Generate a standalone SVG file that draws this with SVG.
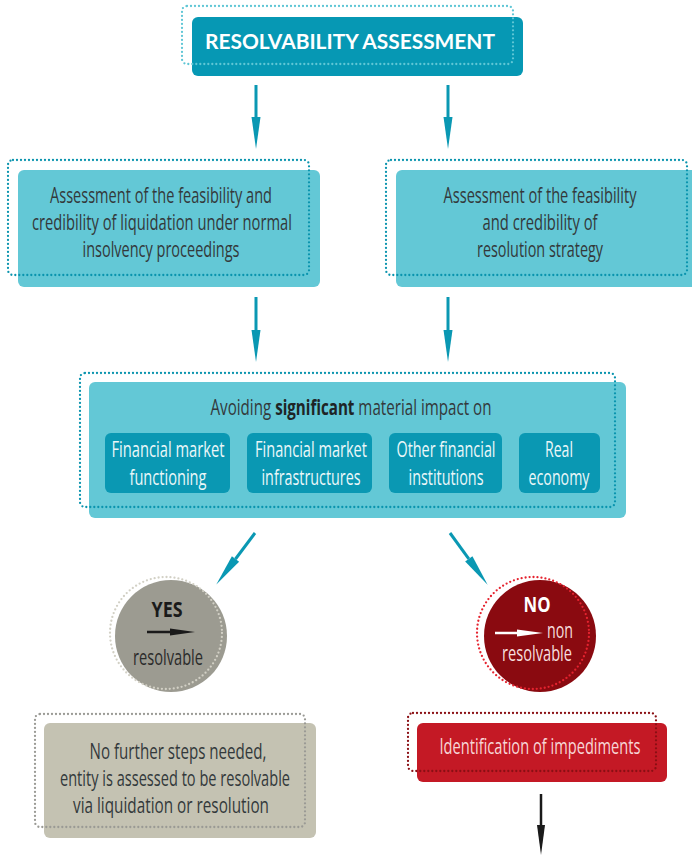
<svg xmlns="http://www.w3.org/2000/svg" width="692" height="855" viewBox="0 0 692 855">
<style>
.t{font-family:"Open Sans","Liberation Sans",sans-serif;font-size:22px;fill:#33393b;text-anchor:middle}
.w{fill:#eaf7f9}
.b{font-weight:bold}
.dot{fill:none;stroke-width:2.3;stroke-linecap:round;stroke-dasharray:0 4}
.blue{stroke:#0a94ae}
.sub{fill:#0a98b3}
.lb{fill:#63c8d6}
.arr{stroke:#0a98b3;stroke-width:3;fill:none;marker-end:url(#ah)}
</style>
<defs>
<marker id="ah" markerUnits="userSpaceOnUse" markerWidth="34" markerHeight="10" refX="0" refY="5" orient="auto" overflow="visible">
<path d="M0,0.5 L32,5 L0,9.5 Z" fill="#0a98b3"/>
</marker>
<marker id="ahk" markerUnits="userSpaceOnUse" markerWidth="32" markerHeight="10" refX="0" refY="5" orient="auto" overflow="visible">
<path d="M0,1 L30,5 L0,9 Z" fill="#1a1a1a"/>
</marker>
</defs>
<rect width="692" height="855" fill="#ffffff"/>

<g id="title">
<rect x="192" y="17" width="331" height="59" rx="6" fill="#0698b4"/>
<rect x="182" y="6" width="331" height="58" rx="5" class="dot" stroke="#5fc6d5"/>
<text x="350" y="49" textLength="290" lengthAdjust="spacingAndGlyphs" style="font-family:Lato,'Liberation Sans',sans-serif;font-size:21px;font-weight:bold;fill:#ffffff" text-anchor="middle">RESOLVABILITY ASSESSMENT</text>
</g>

<g id="liquidation">
<rect x="18" y="170" width="302" height="117" rx="6" class="lb"/>
<rect x="8" y="160" width="301" height="115" rx="5" class="dot blue"/>
<text class="t" x="161" y="203" textLength="222" lengthAdjust="spacingAndGlyphs">Assessment of the feasibility and</text>
<text class="t" x="162" y="230" textLength="260" lengthAdjust="spacingAndGlyphs">credibility of liquidation under normal</text>
<text class="t" x="161" y="257" textLength="157" lengthAdjust="spacingAndGlyphs">insolvency proceedings</text>
</g>

<g id="resolution">
<rect x="396" y="170" width="302" height="117" rx="6" class="lb"/>
<rect x="386" y="160" width="301" height="115" rx="5" class="dot blue"/>
<text class="t" x="540" y="203" textLength="193" lengthAdjust="spacingAndGlyphs">Assessment of the feasibility</text>
<text class="t" x="540" y="230" textLength="115" lengthAdjust="spacingAndGlyphs">and credibility of</text>
<text class="t" x="540" y="257" textLength="126" lengthAdjust="spacingAndGlyphs">resolution strategy</text>
</g>

<g id="impact">
<rect x="89" y="382" width="537" height="136" rx="6" class="lb"/>
<rect x="80" y="373" width="535" height="134" rx="5" class="dot blue"/>
<text class="t" x="351" y="415" textLength="281" lengthAdjust="spacingAndGlyphs">Avoiding <tspan class="b" style="fill:#1e2526">significant</tspan> material impact on</text>
</g>

<g id="fmf">
<rect x="105" y="433" width="125" height="60" rx="6" class="sub"/>
<text class="t w" x="168" y="457" textLength="113" lengthAdjust="spacingAndGlyphs">Financial market</text>
<text class="t w" x="168" y="485" textLength="77" lengthAdjust="spacingAndGlyphs">functioning</text>
</g>
<g id="fmi">
<rect x="247" y="433" width="125" height="60" rx="6" class="sub"/>
<text class="t w" x="311" y="457" textLength="112" lengthAdjust="spacingAndGlyphs">Financial market</text>
<text class="t w" x="311" y="485" textLength="99" lengthAdjust="spacingAndGlyphs">infrastructures</text>
</g>
<g id="ofi">
<rect x="389" y="433" width="113" height="60" rx="6" class="sub"/>
<text class="t w" x="446" y="457" textLength="99" lengthAdjust="spacingAndGlyphs">Other financial</text>
<text class="t w" x="446" y="485" textLength="75" lengthAdjust="spacingAndGlyphs">institutions</text>
</g>
<g id="real">
<rect x="519" y="433" width="81" height="60" rx="6" class="sub"/>
<text class="t w" x="559" y="457" textLength="28" lengthAdjust="spacingAndGlyphs">Real</text>
<text class="t w" x="559" y="485" textLength="61" lengthAdjust="spacingAndGlyphs">economy</text>
</g>

<g id="yes">
<circle cx="171" cy="636" r="56" fill="#9c9b91"/>
<circle cx="166" cy="633" r="56" class="dot" stroke="#d2d0c5"/>
<text class="t b" x="167" y="617" style="fill:#1a1a1a" textLength="31" lengthAdjust="spacingAndGlyphs">YES</text>
<line x1="147" y1="632" x2="171" y2="632" stroke="#1a1a1a" stroke-width="2.5"/>
<path d="M170,628.5 L195,632 L170,635.5 Z" fill="#1a1a1a"/>
<text class="t" x="168" y="665" style="fill:#2b2b2b" textLength="70" lengthAdjust="spacingAndGlyphs">resolvable</text>
</g>

<g id="no">
<circle cx="540" cy="636" r="56" fill="#8a0a10"/>
<circle cx="533" cy="633" r="56" class="dot" stroke="#e5232f"/>
<text class="t b" x="537" y="612" style="fill:#ffffff" textLength="27" lengthAdjust="spacingAndGlyphs">NO</text>
<line x1="495" y1="633" x2="518" y2="633" stroke="#ffffff" stroke-width="2.5"/>
<path d="M517,629.5 L543,633 L517,636.5 Z" fill="#ffffff"/>
<text class="t" x="547" y="638" style="text-anchor:start;fill:#f6dede" textLength="26" lengthAdjust="spacingAndGlyphs">non</text>
<text class="t" x="537" y="661" style="fill:#f6dede" textLength="70" lengthAdjust="spacingAndGlyphs">resolvable</text>
</g>

<g id="no-further">
<rect x="44" y="723" width="272" height="115" rx="6" fill="#c4c2b2"/>
<rect x="35" y="714" width="270" height="113" rx="5" class="dot" stroke="#9a9a95"/>
<text class="t" x="178" y="759" textLength="177" lengthAdjust="spacingAndGlyphs">No further steps needed,</text>
<text class="t" x="175" y="786" textLength="230" lengthAdjust="spacingAndGlyphs">entity is assessed to be resolvable</text>
<text class="t" x="171" y="813" textLength="196" lengthAdjust="spacingAndGlyphs">via liquidation or resolution</text>
</g>

<g id="impediments">
<rect x="417" y="723" width="250" height="59" rx="6" fill="#c41925"/>
<rect x="408" y="713" width="248" height="58" rx="5" class="dot" stroke="#8a0f14"/>
<text class="t" x="540" y="754" style="fill:#f7d6d6" textLength="201" lengthAdjust="spacingAndGlyphs">Identification of impediments</text>
</g>

<g id="connectors">
<line class="arr" x1="256" y1="85" x2="256" y2="117"/>
<line class="arr" x1="448" y1="85" x2="448" y2="117"/>
<line class="arr" x1="256" y1="297" x2="256" y2="330"/>
<line class="arr" x1="448" y1="297" x2="448" y2="330"/>
<line class="arr" x1="255" y1="533" x2="235.5" y2="559"/>
<line class="arr" x1="450" y1="533" x2="468.8" y2="558.9"/>
<line x1="541" y1="794" x2="541" y2="825" stroke="#1a1a1a" stroke-width="2.5" marker-end="url(#ahk)"/>
</g>
</svg>
